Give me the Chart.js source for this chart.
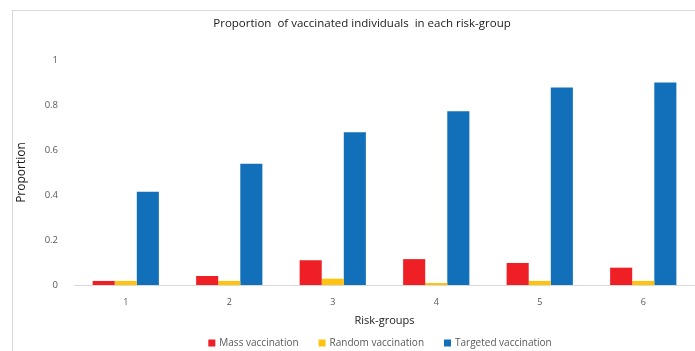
<!DOCTYPE html>
<html>
<head>
<meta charset="utf-8">
<script src="https://cdn.jsdelivr.net/npm/chart.js@4.4.1/dist/chart.umd.min.js"></script>
<style>
    html, body { margin: 0; padding: 0; background: #fff; overflow: hidden; }
    #wrap { position: relative; width: 695px; height: 351px; overflow: hidden; }
    #frame { position: absolute; left: 12px; top: 10px; width: 760px; height: 400px; border: 1px solid #d9d9d9; }
    canvas { position: absolute; left: 0; top: 0; }
</style>
</head>
<body>
<div id="wrap">
    <div id="frame"></div>
    <canvas id="chart" width="695" height="351"></canvas>
</div>
<script>
// data
const categories = ['1', '2', '3', '4', '5', '6'];
const massVaccination = [0.018, 0.04, 0.11, 0.115, 0.098, 0.077];
const randomVaccination = [0.018, 0.018, 0.028, 0.009, 0.018, 0.018];
const targetedVaccination = [0.415, 0.539, 0.679, 0.772, 0.878, 0.90];
const yTicks = [0, 0.2, 0.4, 0.6, 0.8, 1];

const titleText = 'Proportion  of vaccinated individuals  in each risk-group';
const font = "'Open Sans', 'Noto Sans', sans-serif";

// title + legend drawn by hand so they sit where the original has them
const extras = {
    id: 'extras',
    afterDraw(chart) {
        const ctx = chart.ctx;
        ctx.save();
        ctx.fillStyle = '#1a1a1a';
        ctx.font = '11.5px ' + font;
        ctx.textAlign = 'center';
        ctx.textBaseline = 'middle';
        ctx.fillText(titleText, 362, 24);

        ctx.font = '10px ' + font;
        ctx.textAlign = 'left';
        const box = 7, gap = 4, spacing = 20;
        const items = chart.data.datasets.map(ds => ({
            label: ds.label, color: ds.backgroundColor,
            w: box + gap + ctx.measureText(ds.label).width
        }));
        const total = items.reduce((s, it) => s + it.w, 0) + spacing * (items.length - 1);
        let x = 380 - total / 2;
        const y = 343;
        items.forEach(it => {
            ctx.fillStyle = it.color;
            ctx.fillRect(x, y - box / 2, box, box);
            ctx.fillStyle = '#595959';
            ctx.fillText(it.label, x + box + gap, y);
            x += it.w + spacing;
        });
        ctx.restore();
    }
};

const ctx = document.getElementById('chart').getContext('2d');
new Chart(ctx, {
    type: 'bar',
    data: {
        labels: categories,
        datasets: [
            { label: 'Mass vaccination', data: massVaccination, backgroundColor: '#ee1f25' },
            { label: 'Random vaccination', data: randomVaccination, backgroundColor: '#ffc20e' },
            { label: 'Targeted vaccination', data: targetedVaccination, backgroundColor: '#1170b9' }
        ]
    },
    options: {
        responsive: false,
        animation: false,
        layout: { padding: { left: 12, top: 60, right: 0, bottom: 24 } },
        datasets: { bar: { categoryPercentage: 0.64, barPercentage: 1.0 } },
        plugins: {
            legend: { display: false },
            title: { display: false },
            tooltip: { enabled: false }
        },
        scales: {
            x: {
                grid: { display: false },
                border: { display: true, color: '#d9d9d9', width: 1 },
                ticks: { color: '#595959', font: { family: font, size: 9 }, padding: 4 },
                title: { display: true, text: 'Risk-groups', color: '#1a1a1a', font: { family: font, size: 11 }, padding: { top: 2, bottom: 0 } }
            },
            y: {
                min: 0,
                max: 1,
                afterBuildTicks(scale) { scale.ticks = yTicks.map(v => ({ value: v })); },
                afterFit(scale) { scale.width = 62; },
                grid: { display: false },
                border: { display: false },
                ticks: { color: '#595959', font: { family: font, size: 9.5 }, padding: 8, callback: v => String(v) },
                title: { display: true, text: 'Proportion', color: '#1a1a1a', font: { family: font, size: 12 }, padding: { top: 2, bottom: 0 } }
            }
        }
    },
    plugins: [extras]
});
</script>
</body>
</html>
